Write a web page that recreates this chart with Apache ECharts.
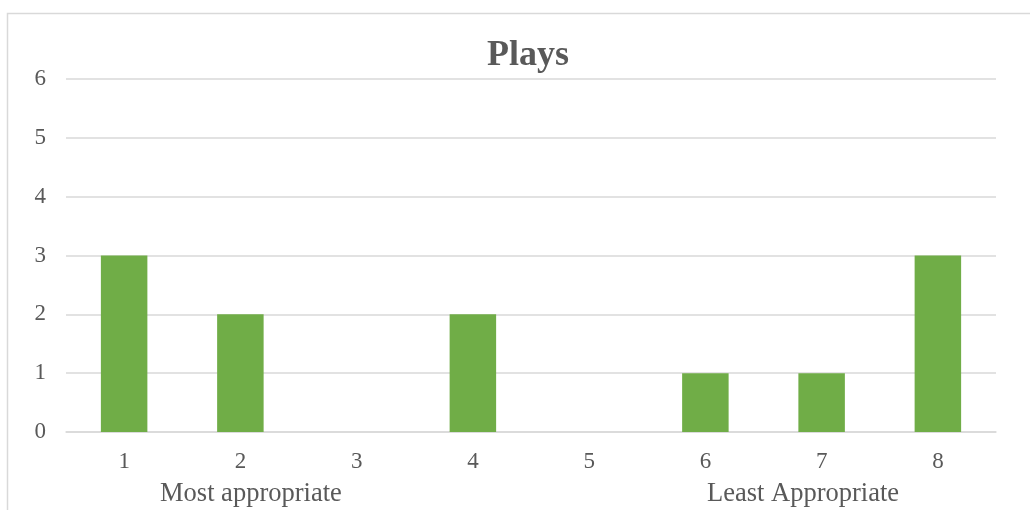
<!DOCTYPE html>
<html>
<head>
<meta charset="utf-8">
<style>
  html, body { margin: 0; padding: 0; background: #fff; }
  #chart { width: 1030px; height: 510px; }
</style>
<script src="https://cdn.jsdelivr.net/npm/echarts@6/dist/echarts.min.js"></script>
</head>
<body>
<div id="chart"></div>
<script>
// Ranking positions (1 = most appropriate, 8 = least appropriate)
const categories = ['1', '2', '3', '4', '5', '6', '7', '8'];
// Number of responses at each ranking position
const counts = [3, 2, 0, 2, 0, 1, 1, 3];
const chartTitle = 'Plays';
const lowEndLabel = 'Most appropriate';
const highEndLabel = 'Least Appropriate';

const textColor = '#595959';
const gridColor = '#d9d9d9';
const serif = '"Liberation Serif", "Times New Roman", serif';

const chart = echarts.init(document.getElementById('chart'), null, { renderer: 'canvas' });

chart.setOption({
  animation: false,
  backgroundColor: '#ffffff',
  title: {
    text: chartTitle,
    left: 482,
    top: 33,
    textStyle: { fontFamily: serif, fontWeight: 'bold', fontSize: 36, color: textColor }
  },
  grid: { left: 66, right: 34, top: 79, bottom: 78, containLabel: false },
  xAxis: {
    type: 'category',
    data: categories,
    axisLine: { show: true, lineStyle: { color: gridColor, width: 1.5 } },
    axisTick: { show: false },
    axisLabel: { fontFamily: serif, fontSize: 23, color: textColor, margin: 18 }
  },
  yAxis: {
    type: 'value',
    min: 0,
    max: 6,
    interval: 1,
    axisLine: { show: false },
    axisTick: { show: false },
    splitLine: { lineStyle: { color: gridColor, width: 1.5 } },
    axisLabel: { fontFamily: serif, fontSize: 23, color: textColor, margin: 20 }
  },
  series: [{
    type: 'bar',
    data: counts,
    barWidth: '40%',
    itemStyle: { color: '#70ad47' }
  }],
  graphic: [
    {
      type: 'rect',
      left: 5, top: 11,
      shape: { width: 1040, height: 520 },
      style: { fill: 'none', stroke: gridColor, lineWidth: 1.5 },
      silent: true
    },
    {
      type: 'text',
      left: 160, top: 481,
      style: { text: lowEndLabel, font: '26.5px ' + serif, fill: textColor }
    },
    {
      type: 'text',
      left: 707, top: 481,
      style: { text: highEndLabel, font: '26.5px ' + serif, fill: textColor }
    }
  ]
});
</script>
</body>
</html>
